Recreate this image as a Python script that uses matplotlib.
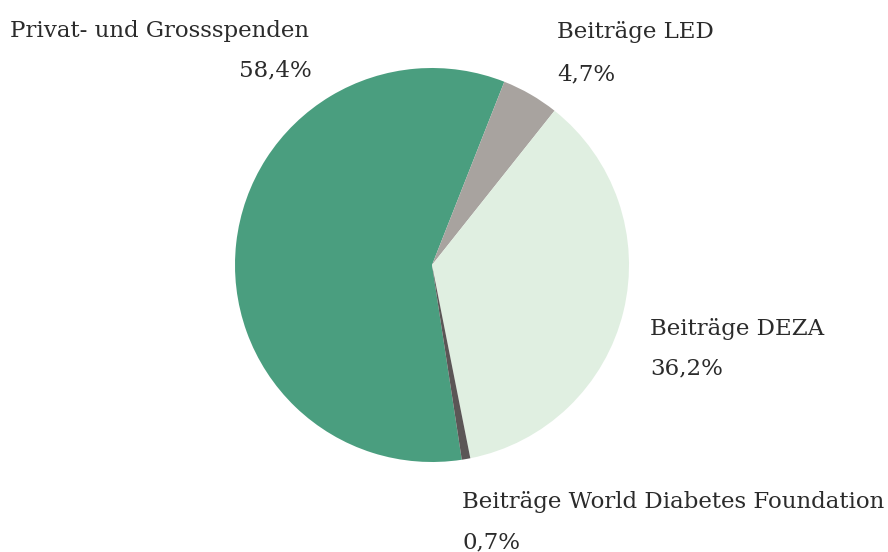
import matplotlib
matplotlib.use("Agg")
import matplotlib.pyplot as plt

categories = ["Privat- und Grossspenden", "Beiträge LED", "Beiträge DEZA",
              "Beiträge World Diabetes Foundation"]
values = [58.4, 4.7, 36.2, 0.7]
value_labels = ["58,4%", "4,7%", "36,2%", "0,7%"]
colors = ["#4a9e7f", "#a8a39f", "#e0efe1", "#5b5656"]

W, H = 888, 552
fig = plt.figure(figsize=(W / 100, H / 100), dpi=100)
ax = fig.add_axes([0, 0, 1, 1])
ax.set_xlim(0, W)
ax.set_ylim(H, 0)
ax.axis("off")

# pie drawn in a separate axes with equal aspect
cx, cy, r = 432, 265, 197
pax = fig.add_axes([(cx - r) / W, 1 - (cy + r) / H, 2 * r / W, 2 * r / H])
pax.pie(values, colors=colors, startangle=278.7, counterclock=False,
        wedgeprops=dict(linewidth=0))
pax.set_xlim(-1, 1)
pax.set_ylim(-1, 1)
pax.set_aspect("equal")
pax.axis("off")

font = dict(family="DejaVu Serif", fontsize=16.5, color="#2b2b2b")
# label positions (pixels)
ax.text(10, 37, categories[0], ha="left", va="baseline", **font)
ax.text(312, 76, value_labels[0], ha="right", va="baseline", **font)
ax.text(557, 38, categories[1], ha="left", va="baseline", **font)
ax.text(557, 80, value_labels[1], ha="left", va="baseline", **font)
ax.text(650, 335, categories[2], ha="left", va="baseline", **font)
ax.text(650, 374, value_labels[2], ha="left", va="baseline", **font)
ax.text(462, 508, categories[3], ha="left", va="baseline", **font)
ax.text(462, 548, value_labels[3], ha="left", va="baseline", **font)

fig.savefig("out.png", dpi=100, facecolor="white")
